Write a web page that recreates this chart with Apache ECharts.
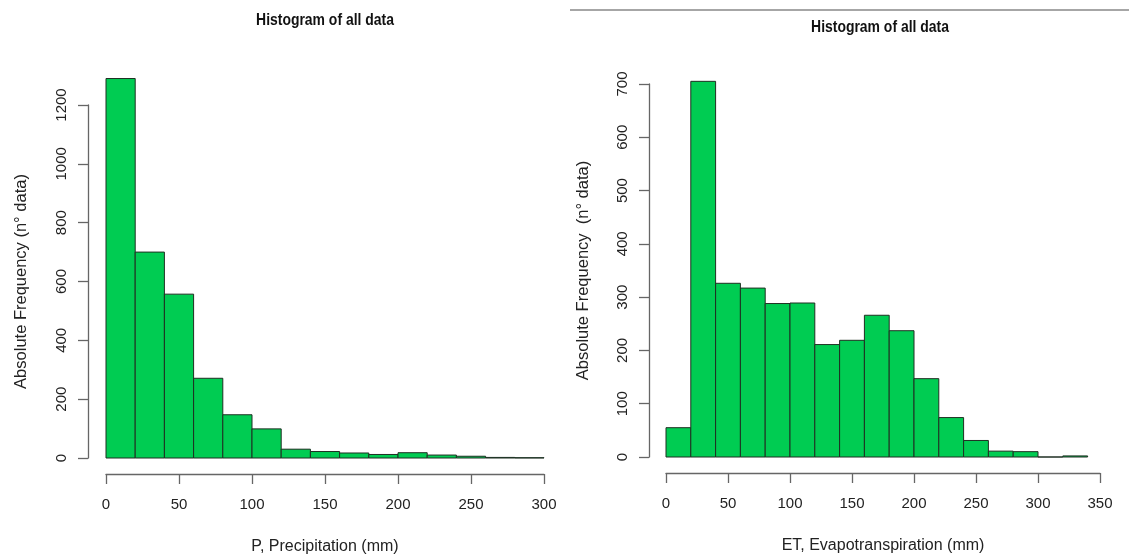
<!DOCTYPE html>
<html>
<head>
<meta charset="utf-8">
<script src="https://cdn.jsdelivr.net/npm/echarts@6/dist/echarts.min.js"></script>
<style>
  html, body { margin: 0; padding: 0; background: #fff; }
  #chart { width: 1129px; height: 556px; }
</style>
</head>
<body>
<div id="chart"></div>
<script>
// bin edges (mm) and counts
var precipEdges = [0, 20, 40, 60, 80, 100, 120, 140, 160, 180, 200, 220, 240, 260, 280, 300]
var precipCounts = [1290, 700, 557, 271, 147, 99, 30, 22, 17, 12, 18, 10, 6, 2, 1]
var etEdges = [0, 20, 40, 60, 80, 100, 120, 140, 160, 180, 200, 220, 240, 260, 280, 300, 320, 340]
var etCounts = [55, 705, 326, 317, 288, 289, 211, 219, 266, 237, 147, 74, 31, 11, 10, 0, 2]
var precipTicksY = [0, 200, 400, 600, 800, 1000, 1200]
var etTicksY = [0, 100, 200, 300, 400, 500, 600, 700]

var FONT = '"Liberation Sans", Arial, sans-serif'
var barFill = '#00cc52'
var barStroke = '#1f2f22'
var axisGray = '#666'

// each bin -> [start, end, count]
function toBins(edges, counts) {
    var out = []
    for (var i = 0; i < counts.length; i++) {
        out.push([edges[i], edges[i + 1], counts[i]])
    }
    return out
}

function renderBin(params, api) {
    var p0 = api.coord([api.value(0), api.value(2)])
    var p1 = api.coord([api.value(1), 0])
    return {
        type: 'rect',
        shape: { x: p0[0], y: p0[1], width: p1[0] - p0[0], height: p1[1] - p0[1] },
        style: { fill: barFill, stroke: barStroke, lineWidth: 1 }
    }
}

// R style axes: detached from the plot region by a small offset
function xAxisOf(idx, max, name) {
    return {
        gridIndex: idx, type: 'value', min: 0, max: max, interval: 50,
        offset: 16,
        name: name, nameLocation: 'middle', nameGap: 65,
        nameTextStyle: { fontFamily: FONT, fontSize: 16, color: '#222' },
        axisLine: { show: true, onZero: false, lineStyle: { color: axisGray, width: 1.3 } },
        axisTick: { show: true, length: 10, lineStyle: { color: axisGray, width: 1.3 } },
        axisLabel: { fontFamily: FONT, fontSize: 15, color: '#222', margin: 23 },
        splitLine: { show: false }
    }
}

function yAxisOf(idx, ticks, name, off, gap) {
    return {
        gridIndex: idx, type: 'value', min: 0, max: ticks[ticks.length - 1], interval: ticks[1] - ticks[0],
        offset: off,
        name: name, nameLocation: 'middle', nameGap: gap,
        nameTextStyle: { fontFamily: FONT, fontSize: 16.5, color: '#222' },
        axisLine: { show: true, onZero: false, lineStyle: { color: axisGray, width: 1.3 } },
        axisTick: { show: true, length: 10, lineStyle: { color: axisGray, width: 1.3 } },
        axisLabel: { fontFamily: FONT, fontSize: 15, color: '#222', rotate: 90, margin: 19,
                     formatter: function (v) { return String(v) } },
        splitLine: { show: false }
    }
}

function titleText(x, y) {
    return {
        type: 'text', x: x, y: y, scaleX: 0.82,
        style: { text: 'Histogram of all data', font: 'bold 17px "Liberation Sans", Arial, sans-serif',
                 fill: '#111', align: 'center', verticalAlign: 'middle' }
    }
}

var myChart = echarts.init(document.getElementById('chart'))
var option = {
    backgroundColor: '#fff',
    animation: false,
    graphic: [
        titleText(325, 20),
        titleText(880, 27),
        { type: 'line', shape: { x1: 570, y1: 10, x2: 1129, y2: 10 },
          style: { stroke: '#888', lineWidth: 1.5 } }
    ],
    grid: [
        { left: 106, right: 585, top: 105, bottom: 98, outerBoundsMode: 'none' },
        { left: 666, right: 29, top: 84, bottom: 99, outerBoundsMode: 'none' }
    ],
    xAxis: [
        xAxisOf(0, 300, 'P, Precipitation (mm)'),
        xAxisOf(1, 350, 'ET, Evapotranspiration (mm)')
    ],
    yAxis: [
        yAxisOf(0, precipTicksY, 'Absolute Frequency (n° data)', 18, 58),
        yAxisOf(1, etTicksY, 'Absolute Frequency  (n° data)', 17, 57)
    ],
    series: [
        { type: 'custom', xAxisIndex: 0, yAxisIndex: 0, renderItem: renderBin,
          encode: { x: [0, 1], y: 2 }, clip: false, data: toBins(precipEdges, precipCounts) },
        { type: 'custom', xAxisIndex: 1, yAxisIndex: 1, renderItem: renderBin,
          encode: { x: [0, 1], y: 2 }, clip: false, data: toBins(etEdges, etCounts) }
    ]
}
myChart.setOption(option)
</script>
</body>
</html>
